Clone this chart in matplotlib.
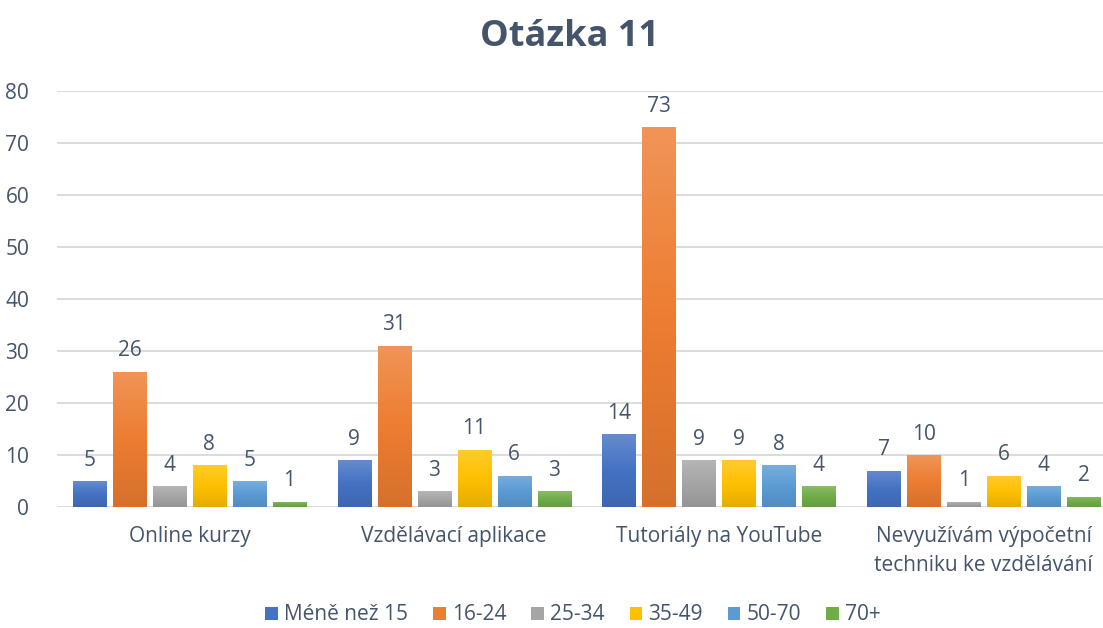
import numpy as np
import matplotlib.pyplot as plt
from matplotlib.colors import LinearSegmentedColormap, to_rgb

plt.rcParams['font.family'] = ['Open Sans', 'DejaVu Sans']

categories = ['Online kurzy', 'Vzdělávací aplikace', 'Tutoriály na YouTube',
              'Nevyužívám výpočetní\ntechniku ke vzdělávání']
series = ['Méně než 15', '16-24', '25-34', '35-49', '50-70', '70+']
values = [
    [5, 9, 14, 7],
    [26, 31, 73, 10],
    [4, 3, 9, 1],
    [8, 11, 9, 6],
    [5, 6, 8, 4],
    [1, 3, 4, 2],
]
colors = ['#4472C4', '#ED7D31', '#A5A5A5', '#FFC000', '#5B9BD5', '#70AD47']

text_col = '#44546A'


def shade(c, f):
    r = np.array(to_rgb(c))
    if f > 0:
        return tuple(r + (1 - r) * f)
    return tuple(r * (1 + f))


W, H = 1103, 628
fig = plt.figure(figsize=(W / 100, H / 100), dpi=100)
ax = fig.add_axes([57 / W, (H - 507) / H, (W - 57) / W, (507 - 91) / H])

step = 0.151
bw = 0.125
x = np.arange(len(categories))

for i, (name, vals, c) in enumerate(zip(series, values, colors)):
    pos = x + (i - 2.5) * step
    bars = ax.bar(pos, vals, width=bw, color=c, label=name, zorder=2)
    cmap = LinearSegmentedColormap.from_list('g', [shade(c, -0.1), c, shade(c, 0.18)])
    grad = np.linspace(0, 1, 100).reshape(-1, 1)
    for b, v in zip(bars, vals):
        im = ax.imshow(grad, cmap=cmap, aspect='auto', origin='lower',
                       extent=(b.get_x(), b.get_x() + bw, 0, v), zorder=3)
        im.set_clip_path(b)
        ax.text(b.get_x() + bw / 2, v + 2.0, str(v), ha='center', va='bottom',
                fontsize=15, color=text_col)

ax.set_xlim(-0.5, 3.5 - 13 / 264)
ax.set_ylim(0, 80)
ax.set_yticks(range(0, 81, 10))
ax.set_xticks(x)
ax.set_xticklabels(categories, fontsize=15, color=text_col, linespacing=1.45)
ax.tick_params(axis='y', labelsize=15, labelcolor=text_col, length=0, pad=20)
ax.tick_params(axis='x', length=0, pad=14)
ax.grid(axis='y', color='#D9D9D9', linewidth=1.3, zorder=0)
ax.set_axisbelow(True)
for s in ax.spines.values():
    s.set_visible(False)

fig.text(570 / W, 1 - 37 / H, 'Otázka 11', ha='center', va='center',
         fontsize=26, fontweight='bold', color=text_col)

leg = fig.legend(*ax.get_legend_handles_labels(), loc='center', ncol=6,
                 bbox_to_anchor=(573 / W, 1 - 615 / H), frameon=False,
                 fontsize=15, handlelength=0.6, handleheight=0.6,
                 handletextpad=0.3, columnspacing=1.2, borderpad=0.2)
for t in leg.get_texts():
    t.set_color(text_col)

fig.savefig('out.png', dpi=100)
